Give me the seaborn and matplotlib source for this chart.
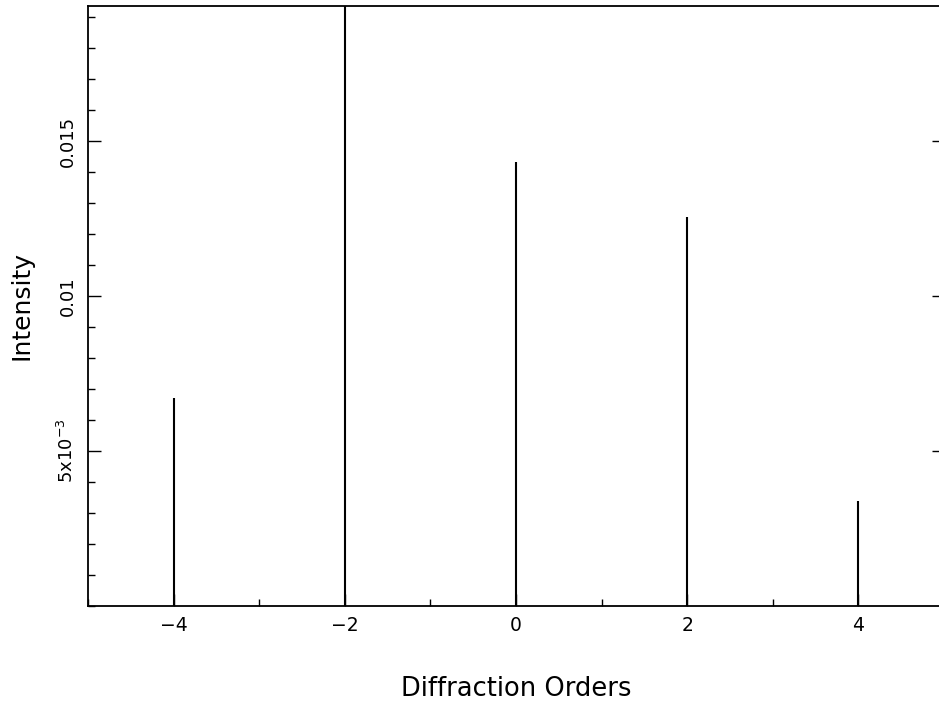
import matplotlib
matplotlib.use('Agg')
import matplotlib.pyplot as plt
import seaborn as sns
import pandas as pd
from matplotlib.ticker import FixedLocator, MultipleLocator

# Data uit de figuur
orders = [-4, -2, 0, 2, 4]
intensity = [0.00671, 0.0200, 0.01432, 0.01255, 0.00339]
ytick_vals = [0.005, 0.01, 0.015]
ytick_labels = ['5x10$^{-3}$', '0.01', '0.015']

df = pd.DataFrame({'Order': orders, 'Intensity': intensity})

sns.set_style('ticks')
plt.rcParams['font.family'] = ['DejaVu Sans']
plt.rcParams['mathtext.fontset'] = 'dejavusans'
plt.rcParams['text.color'] = 'black'
plt.rcParams['axes.labelcolor'] = 'black'
plt.rcParams['xtick.color'] = 'black'
plt.rcParams['ytick.color'] = 'black'

fig = plt.figure(figsize=(9.39, 7.01), dpi=100)
ax = fig.add_axes([88 / 939, 95 / 701, 856 / 939, 600 / 701])

# Staven met (bijna) nul breedte: alleen de rand is zichtbaar als lijn
sns.barplot(data=df, x='Order', y='Intensity', native_scale=True, width=0.0005,
            color='black', edgecolor='black', linewidth=1.5, saturation=1, ax=ax)

ax.set_xlim(-5, 5)
ax.set_ylim(0, 0.019355)

ax.xaxis.set_major_locator(FixedLocator([-4, -2, 0, 2, 4]))
ax.xaxis.set_minor_locator(MultipleLocator(1))
ax.set_xticklabels(['\u22124', '\u22122', '0', '2', '4'], fontsize=13.5)

ax.yaxis.set_major_locator(FixedLocator(ytick_vals))
ax.yaxis.set_minor_locator(MultipleLocator(0.001))
ax.set_yticklabels(ytick_labels, fontsize=13, rotation=90, va='center')

ax.tick_params(which='both', direction='in', top=False, right=True, width=1, color='black')
ax.tick_params(which='major', length=9)
ax.tick_params(which='minor', length=5, right=False)
ax.tick_params(axis='x', which='major', pad=7)
ax.tick_params(axis='y', which='major', pad=8)

for s in ax.spines.values():
    s.set_linewidth(1.3)
    s.set_color('black')

ax.set_xlabel('Diffraction Orders', fontsize=18.5, labelpad=30)
ax.set_ylabel('Intensity', fontsize=18, labelpad=17)

plt.savefig('out.png', dpi=100)
